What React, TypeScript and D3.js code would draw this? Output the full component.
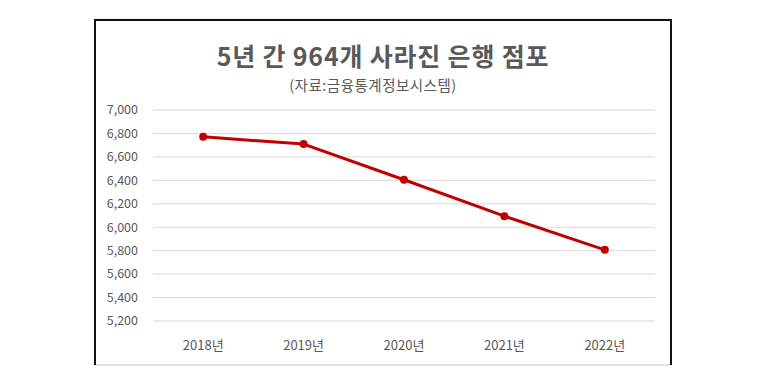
import React from "react";
import * as d3 from "d3";

// 은행 점포 수 (자료: 금융통계정보시스템)
const years = ["2018년", "2019년", "2020년", "2021년", "2022년"];
const branches = [6771, 6709, 6405, 6094, 5807];
const yTicks = [5200, 5400, 5600, 5800, 6000, 6200, 6400, 6600, 6800, 7000];

const title = "5년 간 964개 사라진 은행 점포";
const subtitle = "(자료:금융통계정보시스템)";

const W = 768;
const H = 384;
const font = "'Noto Sans CJK KR', 'Noto Sans', sans-serif";
const textColor = "#595959";

export default function App() {
  const x = d3.scalePoint<string>().domain(years).range([153, 655]).padding(0.5);
  const y = d3.scaleLinear().domain([5200, 7000]).range([321, 110]);
  const fmt = d3.format(",");

  const line = d3
    .line<number>()
    .x((d, i) => x(years[i]) as number)
    .y((d) => y(d));

  const boxLeft = 95;
  const boxRight = 671;
  const boxTop = 20;
  const boxBottom = 365;
  const cx = (boxLeft + boxRight) / 2;

  return (
    <svg
      width={W}
      height={H}
      style={{ position: "absolute", left: 0, top: 0, background: "#fff" }}
    >
      {/* spreadsheet gridline peeking above the chart */}
      <line x1={boxLeft} x2={boxRight} y1={18} y2={18} stroke="#ececec" />

      {/* chart box */}
      <line x1={boxLeft} x2={boxRight} y1={boxBottom} y2={boxBottom} stroke="#c8c8c8" />
      <path
        d={`M${boxLeft},${boxBottom} V${boxTop} H${boxRight} V${boxBottom}`}
        fill="none"
        stroke="#111"
        strokeWidth={2}
      />

      <text
        x={cx}
        y={66}
        textAnchor="middle"
        fontFamily={font}
        fontSize={25}
        fontWeight="bold"
        letterSpacing={0.8}
        fill={textColor}
      >
        {title}
      </text>
      <text
        x={cx - 10}
        y={91}
        textAnchor="middle"
        fontFamily={font}
        fontSize={14.5}
        letterSpacing={0.5}
        fill={textColor}
      >
        {subtitle}
      </text>

      {yTicks.map((t) => (
        <g key={t}>
          <line x1={153} x2={655} y1={y(t)} y2={y(t)} stroke="#d9d9d9" />
          <text
            x={138}
            y={y(t)}
            dy="0.35em"
            textAnchor="end"
            fontFamily={font}
            fontSize={12.5}
            fill={textColor}
          >
            {fmt(t)}
          </text>
        </g>
      ))}

      {years.map((yr) => (
        <text
          key={yr}
          x={x(yr)}
          y={345}
          dy="0.35em"
          textAnchor="middle"
          fontFamily={font}
          fontSize={13}
          fill={textColor}
        >
          {yr}
        </text>
      ))}

      <path d={line(branches) || ""} fill="none" stroke="#c00000" strokeWidth={3} strokeLinejoin="round" />
      {branches.map((v, i) => (
        <circle key={i} cx={x(years[i])} cy={y(v)} r={4} fill="#c00000" />
      ))}
    </svg>
  );
}
